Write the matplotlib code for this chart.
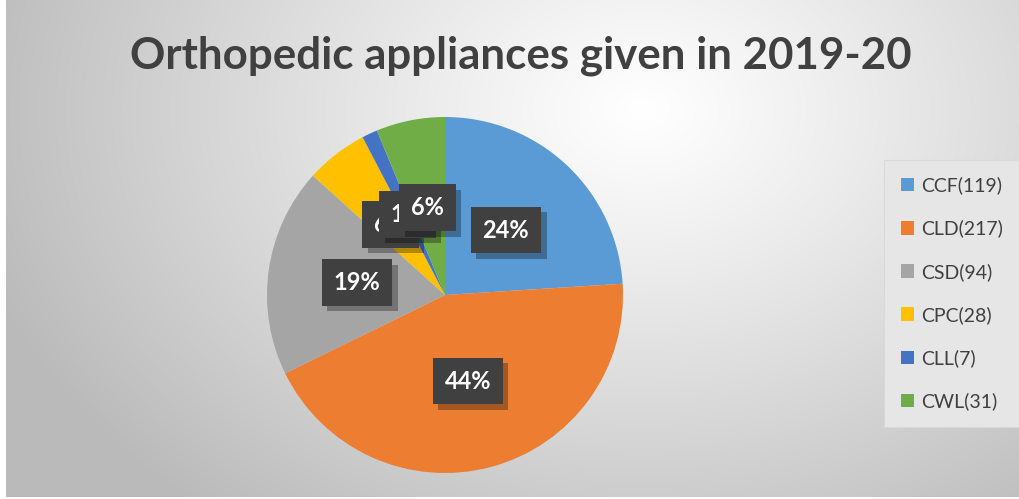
import numpy as np
import matplotlib
matplotlib.use("Agg")
import matplotlib.pyplot as plt
from matplotlib import patheffects as pe

categories = ["CCF", "CLD", "CSD", "CPC", "CLL", "CWL"]
values = [119, 217, 94, 28, 7, 31]
colors = ["#5B9BD5", "#ED7D31", "#A5A5A5", "#FFC000", "#4472C4", "#70AD47"]
title = "Orthopedic appliances given in 2019-20"
legend_labels = [f"{c}({v})" for c, v in zip(categories, values)]

W, H = 1019, 499
fig = plt.figure(figsize=(W / 100, H / 100), dpi=100)
fig.patch.set_facecolor("white")

# background radial gradient
bg = fig.add_axes([6 / W, 2 / H, (W - 6) / W, (H - 2) / H])
bg.set_axis_off()
yy, xx = np.mgrid[0:H, 0:W]
d = np.sqrt(((xx - 640) / 700.0) ** 2 + ((yy - 110) / 520.0) ** 2)
d = np.clip(d, 0, 1)
g = 1.0 - 0.27 * d ** 1.1
img = np.dstack([g, g, g])
bg.imshow(img, aspect="auto", extent=[0, 1, 0, 1], interpolation="bilinear")
bg.set_xlim(0, 1)
bg.set_ylim(0, 1)

fig.text(521 / W, 1 - 56 / H, title, ha="center", va="center",
         fontsize=31.6, fontweight="bold", color="#404040", family="Lato")

cx, cy, R = 445, 295, 178
ax = fig.add_axes([(cx - R) / W, (H - cy - R) / H, 2 * R / W, 2 * R / H])
wedges, texts, autotexts = ax.pie(
    values, colors=colors, startangle=90, counterclock=False,
    autopct=lambda p: f"{p:.0f}%", pctdistance=0.5,
    textprops=dict(color="white", fontsize=17, fontweight="bold", family="Lato"),
    wedgeprops=dict(linewidth=0))
ax.set_xlim(-1, 1)
ax.set_ylim(-1, 1)
ax.set_aspect("equal")
for t in autotexts:
    t.set_bbox(dict(boxstyle="square,pad=0.5", facecolor="#404040",
                    edgecolor="#404040", linewidth=0))
    t.get_bbox_patch().set_path_effects(
        [pe.SimplePatchShadow(offset=(4, -4), shadow_rgbFace="#000000", alpha=0.3), pe.Normal()])

leg = fig.legend(wedges, legend_labels, loc="upper left",
                 bbox_to_anchor=(884 / W, 1 - 160 / H),
                 frameon=True, fancybox=False,
                 prop=dict(family="Lato", size=14),
                 handlelength=0.7, handleheight=0.7, handletextpad=0.35,
                 labelspacing=1.3, borderpad=0.85, borderaxespad=0)
for t in leg.get_texts():
    t.set_color("#404040")
fr = leg.get_frame()
fr.set_facecolor("#e6e6e6")
fr.set_edgecolor("#d9d9d9")
fr.set_linewidth(0.8)
fr.set_alpha(1)

fig.savefig("out.png", dpi=100)
